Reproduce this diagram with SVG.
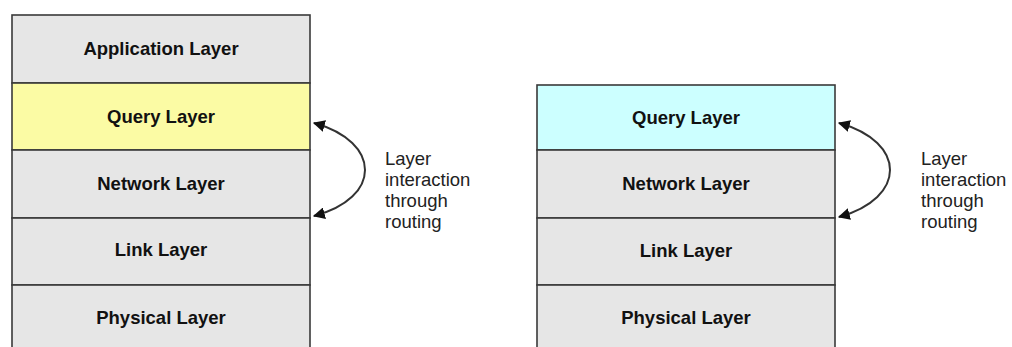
<svg xmlns="http://www.w3.org/2000/svg" width="1012" height="347" viewBox="0 0 1012 347">
  <style>
    .layer { stroke: #3a3a3a; stroke-width: 1.6; }
    .gray { fill: #e6e6e6; }
    .yellow { fill: #fbfba4; }
    .cyan { fill: #ccffff; }
    .lbl { font-family: "Liberation Sans", Arial, sans-serif; font-weight: bold; font-size: 18.5px; fill: #111; text-anchor: middle; }
    .note { font-family: "Liberation Sans", Arial, sans-serif; font-size: 18.5px; fill: #222; }
    .conn { fill: none; stroke: #333; stroke-width: 2; }
  </style>
  <defs>
    <marker id="head" viewBox="0 0 10 10" refX="9" refY="5" markerWidth="6" markerHeight="6" orient="auto-start-reverse" markerUnits="strokeWidth">
      <path d="M0,0 L10,5 L0,10 z" fill="#111"/>
    </marker>
  </defs>
  <rect width="1012" height="347" fill="#ffffff"/>

  <!-- left stack -->
  <g id="left-application">
    <rect class="layer gray" x="12" y="15" width="298" height="68"/>
    <text class="lbl" x="161" y="55">Application Layer</text>
  </g>
  <g id="left-query">
    <rect class="layer yellow" x="12" y="83" width="298" height="67"/>
    <text class="lbl" x="161" y="123">Query Layer</text>
  </g>
  <g id="left-network">
    <rect class="layer gray" x="12" y="150" width="298" height="68"/>
    <text class="lbl" x="161" y="190">Network Layer</text>
  </g>
  <g id="left-link">
    <rect class="layer gray" x="12" y="218" width="298" height="67"/>
    <text class="lbl" x="161" y="256">Link Layer</text>
  </g>
  <g id="left-physical">
    <rect class="layer gray" x="12" y="285" width="298" height="70"/>
    <text class="lbl" x="161" y="324">Physical Layer</text>
  </g>

  <!-- right stack -->
  <g id="right-query">
    <rect class="layer cyan" x="537" y="85" width="298" height="65"/>
    <text class="lbl" x="686" y="124">Query Layer</text>
  </g>
  <g id="right-network">
    <rect class="layer gray" x="537" y="150" width="298" height="68"/>
    <text class="lbl" x="686" y="190">Network Layer</text>
  </g>
  <g id="right-link">
    <rect class="layer gray" x="537" y="218" width="298" height="67"/>
    <text class="lbl" x="686" y="257">Link Layer</text>
  </g>
  <g id="right-physical">
    <rect class="layer gray" x="537" y="285" width="298" height="70"/>
    <text class="lbl" x="686" y="324">Physical Layer</text>
  </g>

  <!-- interaction arrows -->
  <g id="connectors">
    <path class="conn" d="M314,123 C382,142 382,198 314,216" marker-start="url(#head)" marker-end="url(#head)"/>
    <path class="conn" d="M839,123 C907,142 907,198 839,217" marker-start="url(#head)" marker-end="url(#head)"/>
  </g>

  <!-- notes -->
  <g id="left-note">
    <text class="note" x="385" y="165">Layer</text>
    <text class="note" x="385" y="186">interaction</text>
    <text class="note" x="385" y="207">through</text>
    <text class="note" x="385" y="228">routing</text>
  </g>
  <g id="right-note">
    <text class="note" x="921" y="165">Layer</text>
    <text class="note" x="921" y="186">interaction</text>
    <text class="note" x="921" y="207">through</text>
    <text class="note" x="921" y="228">routing</text>
  </g>
</svg>
